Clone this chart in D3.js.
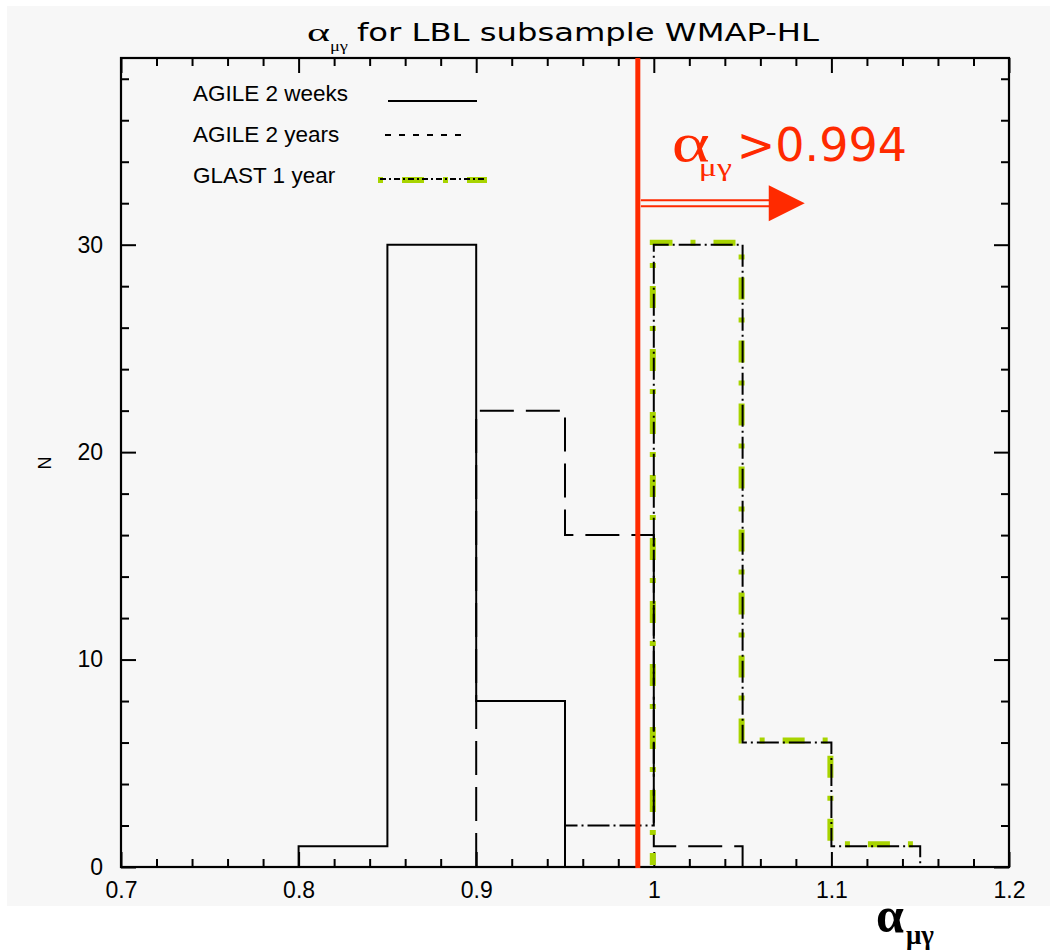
<!DOCTYPE html>
<html><head><meta charset="utf-8">
<script src="https://cdn.jsdelivr.net/npm/d3@7"></script>
<style>body{margin:0;background:#fff;} svg{display:block;}</style>
</head><body>
<svg id="c" width="1055" height="951"></svg>
<script>
// ---- data ----
const binEdges = [0.80, 0.85, 0.90, 0.95, 1.00, 1.05, 1.10, 1.15];
const agile2weeks = [1, 30, 8, 0, 0, 0, 0];
const agile2years = [0, 0, 22, 16, 1, 0, 0];
const glast1year  = [0, 0, 0, 2, 30, 6, 1];
const glastHighlight = [0, 0, 0, 0, 30, 6, 1];
const xMajorTicks = [0.7, 0.8, 0.9, 1.0, 1.1, 1.2];
const xTickLabels = ["0.7", "0.8", "0.9", "1", "1.1", "1.2"];
const yMajorTicks = [0, 10, 20, 30];
const yTickLabels = ["0", "10", "20", "30"];
const xDomain = [0.7, 1.2];
const yDomain = [0, 39];
const cutLinePos = 0.991;
const cutLabel = ">0.994";
const arrowLevel = 32;
const arrowTip = 1.085;
const legendLabels = ["AGILE 2 weeks", "AGILE 2 years", "GLAST 1 year"];

// ---- setup ----
const svg = d3.select("#c");
const x = d3.scaleLinear().domain(xDomain).range([121, 1009]);
const y = d3.scaleLinear().domain(yDomain).range([867, 58]);
const RED = "#ff2a00", GREEN = "#a8d400";
const SERIF = "Liberation Serif, Times New Roman, serif";
const SANS = "Liberation Sans, Arial, sans-serif";
const VERD = "DejaVu Sans, Verdana, sans-serif";

svg.append("rect").attr("x", 7).attr("y", 6).attr("width", 1043).attr("height", 900).attr("fill", "#f7f7f7");

const xMinor = d3.range(0, 26).map(i => 0.7 + i * 0.02).filter(v => !xMajorTicks.some(m => Math.abs(m - v) < 1e-6));
const yMinor = d3.range(0, 20).map(i => i * 2).filter(v => !yMajorTicks.includes(v));

const tickStyle = g => { g.select(".domain").remove(); g.selectAll("line").attr("stroke", "#000").attr("stroke-width", 2); };
const labelStyle = g => g.selectAll("text").attr("font-family", SANS).attr("font-size", 23).attr("fill", "#000");

svg.append("g").attr("transform", `translate(0,${y(0)})`)
  .call(d3.axisBottom(x).tickValues(xMajorTicks).tickSize(-15).tickPadding(15).tickFormat((d, i) => xTickLabels[i]))
  .call(tickStyle).call(labelStyle);
svg.append("g").attr("transform", `translate(0,${y(0)})`)
  .call(d3.axisBottom(x).tickValues(xMinor).tickSize(-8).tickFormat(""))
  .call(tickStyle);
svg.append("g").attr("transform", `translate(0,${y(yDomain[1])})`)
  .call(d3.axisTop(x).tickValues(xMajorTicks).tickSize(-15).tickFormat(""))
  .call(tickStyle);
svg.append("g").attr("transform", `translate(0,${y(yDomain[1])})`)
  .call(d3.axisTop(x).tickValues(xMinor).tickSize(-8).tickFormat(""))
  .call(tickStyle);
svg.append("g").attr("transform", `translate(${x(xDomain[0])},0)`)
  .call(d3.axisLeft(y).tickValues(yMajorTicks).tickSize(-15).tickPadding(18).tickFormat((d, i) => yTickLabels[i]))
  .call(tickStyle).call(labelStyle);
svg.append("g").attr("transform", `translate(${x(xDomain[0])},0)`)
  .call(d3.axisLeft(y).tickValues(yMinor).tickSize(-8).tickFormat(""))
  .call(tickStyle);
svg.append("g").attr("transform", `translate(${x(xDomain[1])},0)`)
  .call(d3.axisRight(y).tickValues(yMajorTicks).tickSize(-15).tickFormat(""))
  .call(tickStyle);
svg.append("g").attr("transform", `translate(${x(xDomain[1])},0)`)
  .call(d3.axisRight(y).tickValues(yMinor).tickSize(-8).tickFormat(""))
  .call(tickStyle);

svg.append("rect").attr("x", x(xDomain[0])).attr("y", y(yDomain[1]))
  .attr("width", x(xDomain[1]) - x(xDomain[0])).attr("height", y(0) - y(yDomain[1]))
  .attr("fill", "none").attr("stroke", "#000").attr("stroke-width", 2.2);

function stepPoints(counts, closeEnd = true) {
  const nz = counts.map((c, i) => c > 0 ? i : -1).filter(i => i >= 0);
  const i0 = nz[0], i1 = nz[nz.length - 1];
  const pts = [[binEdges[i0], 0]];
  for (let i = i0; i <= i1; i++) { pts.push([binEdges[i], counts[i]]); pts.push([binEdges[i + 1], counts[i]]); }
  if (closeEnd) pts.push([binEdges[i1 + 1], 0]);
  return pts;
}
const line = d3.line().x(d => x(d[0])).y(d => y(d[1]));

svg.append("path").attr("d", line(stepPoints(glastHighlight, false)))
  .attr("transform", "translate(-1,-2)")
  .attr("fill", "none").attr("stroke", GREEN).attr("stroke-width", 6)
  .attr("stroke-dasharray", "22,18,5,18").attr("stroke-dashoffset", 10);

svg.append("path").attr("d", line(stepPoints(agile2weeks)))
  .attr("fill", "none").attr("stroke", "#000").attr("stroke-width", 2);
svg.append("path").attr("d", line(stepPoints(agile2years)))
  .attr("fill", "none").attr("stroke", "#000").attr("stroke-width", 2).attr("stroke-dasharray", "34,12");
svg.append("path").attr("d", line(stepPoints(glast1year)))
  .attr("fill", "none").attr("stroke", "#000").attr("stroke-width", 2).attr("stroke-dasharray", "22,4,2,4");

svg.append("line").attr("x1", x(cutLinePos)).attr("x2", x(cutLinePos))
  .attr("y1", y(yDomain[1])).attr("y2", y(0) + 1)
  .attr("stroke", RED).attr("stroke-width", 5);

const ax0 = x(cutLinePos) + 3, ax1 = x(arrowTip), ay = y(arrowLevel);
svg.append("line").attr("x1", ax0).attr("x2", ax1 - 30).attr("y1", ay - 3).attr("y2", ay - 3).attr("stroke", RED).attr("stroke-width", 2);
svg.append("line").attr("x1", ax0).attr("x2", ax1 - 30).attr("y1", ay + 3).attr("y2", ay + 3).attr("stroke", RED).attr("stroke-width", 2);
svg.append("path").attr("d", `M${ax1 - 36},${ay - 18}L${ax1},${ay}L${ax1 - 36},${ay + 18}Z`).attr("fill", RED);

const lx = x(cutLinePos) + 34, ly = y(arrowLevel) - 42;
svg.append("text").attr("x", lx).attr("y", ly).attr("font-family", SERIF)
  .attr("font-size", 54).attr("fill", RED).attr("textLength", 38).attr("lengthAdjust", "spacingAndGlyphs").text("α");
svg.append("text").attr("x", lx + 27).attr("y", ly + 15).attr("font-family", SERIF)
  .attr("font-size", 26).attr("fill", RED).attr("textLength", 33).attr("lengthAdjust", "spacingAndGlyphs").text("μγ");
svg.append("text").attr("x", lx + 65).attr("y", ly).attr("font-family", VERD)
  .attr("font-size", 46).attr("fill", RED).text(cutLabel);

svg.append("text").attr("x", 307).attr("y", 41).attr("font-family", SERIF)
  .attr("font-size", 26).attr("fill", "#000").attr("textLength", 23).attr("lengthAdjust", "spacingAndGlyphs").text("α");
svg.append("text").attr("x", 330).attr("y", 51).attr("font-family", SERIF)
  .attr("font-size", 15).attr("fill", "#000").attr("textLength", 18).attr("lengthAdjust", "spacingAndGlyphs").text("μγ");
svg.append("text").attr("x", 357).attr("y", 41).attr("font-family", VERD)
  .attr("font-size", 25).attr("fill", "#000").attr("textLength", 462).attr("lengthAdjust", "spacingAndGlyphs")
  .text("for LBL subsample WMAP-HL");

const legY = [101, 142, 183];
legendLabels.forEach((t, i) => {
  svg.append("text").attr("x", 193).attr("y", legY[i]).attr("font-family", SANS).attr("font-size", 22.5).attr("fill", "#000").text(t);
});
svg.append("line").attr("x1", 388).attr("x2", 477).attr("y1", 101).attr("y2", 101).attr("stroke", "#000").attr("stroke-width", 2);
svg.append("line").attr("x1", 385).attr("x2", 467).attr("y1", 135).attr("y2", 135).attr("stroke", "#000").attr("stroke-width", 2).attr("stroke-dasharray", "6,8");
svg.append("line").attr("x1", 378).attr("x2", 487).attr("y1", 180).attr("y2", 180).attr("stroke", GREEN).attr("stroke-width", 6).attr("stroke-dasharray", "5,19,22,19");
svg.append("line").attr("x1", 380).attr("x2", 487).attr("y1", 179).attr("y2", 179).attr("stroke", "#000").attr("stroke-width", 2).attr("stroke-dasharray", "6,3,2,3");

svg.append("text").attr("transform", `translate(51,463) rotate(-90)`).attr("text-anchor", "middle")
  .attr("font-family", SANS).attr("font-size", 18).attr("fill", "#000").text("N");
svg.append("text").attr("x", 876).attr("y", 932).attr("font-family", SERIF)
  .attr("font-size", 50).attr("font-weight", "bold").attr("fill", "#000").text("α");
svg.append("text").attr("x", 906).attr("y", 944).attr("font-family", SERIF)
  .attr("font-size", 27).attr("font-weight", "bold").attr("fill", "#000").text("μγ");
</script>
</body></html>
